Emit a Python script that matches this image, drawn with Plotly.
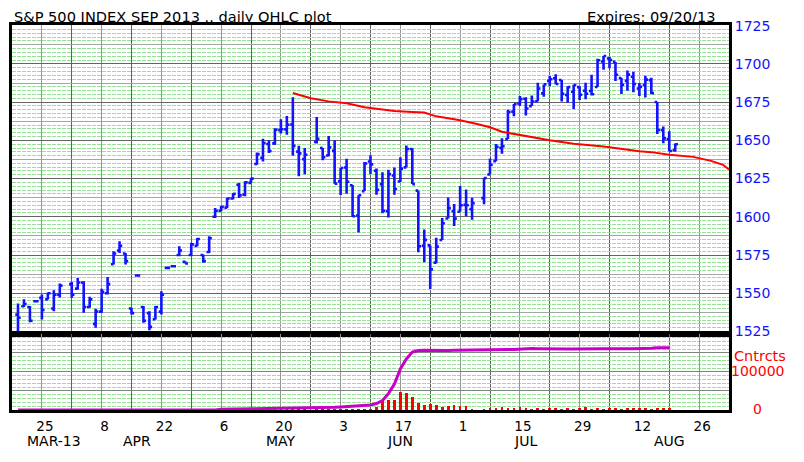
import plotly.graph_objects as go
import pandas as pd

# ---------------- data ----------------
holidays = ["2013-03-29", "2013-05-27", "2013-07-04"]
dates = [d for d in pd.bdate_range("2013-03-19", "2013-08-20")
         if d.strftime("%Y-%m-%d") not in holidays]

opens = [1536.0, 1541.5, 1541.0, 1544.8, 1547.0, 1546.0, 1540.0, 1549.0,
         1556.0, 1553.0, 1557.0, 1541.0, 1530.0, 1538.0, 1550.0, 1569.0, 1578.0, 1576.0, 1540.0, 1561.6, 1541.0, 1537.0, 1533.0, 1538.0, 1566.6, 1567.7, 1575.0, 1570.5, 1575.0, 1581.0,
         1575.0, 1577.0, 1600.0, 1604.0, 1606.0, 1612.0, 1621.0, 1614.5, 1622.2, 1634.5, 1638.6, 1647.6, 1648.0, 1656.7, 1657.2, 1660.4, 1642.6, 1637.7, 1649.0, 1645.0, 1640.1, 1643.1,
         1623.2, 1632.2, 1620.6, 1600.9, 1616.8, 1636.2, 1630.1, 1621.4, 1603.7, 1627.0, 1623.1, 1632.3, 1644.3, 1617.1, 1581.1, 1581.3, 1570.0, 1584.8, 1598.9, 1603.6,
         1603.3, 1607.8, 1605.0, 1612.2, 1627.7, 1636.4, 1645.1, 1650.9, 1668.8, 1674.1, 1677.2, 1672.4, 1675.6, 1680.7, 1688.9, 1690.6, 1689.5, 1679.7, 1681.8, 1684.8, 1682.4, 1682.3,
         1684.9, 1701.6, 1703.5, 1701.3, 1690.8, 1688.9, 1691.6, 1683.9, 1686.2, 1689.4, 1675.1, 1656.7, 1650.8, 1643.5]
highs = [1543.3, 1546.0, 1541.6, 1544.8, 1549.2, 1550.5, 1552.0, 1556.4,
         1557.4, 1560.0, 1557.9, 1547.7, 1539.8, 1552.9, 1560.7, 1577.5, 1584.0, 1576.4, 1540.5, 1561.6, 1541.6, 1538.3, 1541.6, 1551.3, 1566.6, 1567.7, 1580.8, 1571.0, 1583.0, 1586.2,
         1575.3, 1587.3, 1605.8, 1607.0, 1612.3, 1615.6, 1622.1, 1623.2, 1625.5, 1642.0, 1651.0, 1650.0, 1658.0, 1663.8, 1665.9, 1678.2, 1646.5, 1645.0, 1665.2, 1645.0, 1652.9, 1650.0,
         1631.9, 1638.0, 1620.8, 1614.1, 1635.9, 1640.2, 1631.6, 1629.2, 1630.8, 1632.3, 1639.0, 1646.7, 1644.9, 1617.1, 1591.7, 1581.3, 1586.3, 1599.3, 1612.6, 1608.4,
         1620.1, 1617.8, 1612.5, 1625.6, 1638.2, 1647.7, 1651.4, 1670.1, 1673.7, 1679.0, 1678.2, 1679.3, 1687.6, 1686.6, 1692.1, 1693.3, 1689.5, 1685.4, 1686.4, 1685.4, 1687.7, 1692.9,
         1703.4, 1705.2, 1704.7, 1701.3, 1690.8, 1695.7, 1694.9, 1687.5, 1692.3, 1691.0, 1675.1, 1659.1, 1656.0, 1648.0]
lows = [1525.2, 1541.0, 1531.1, 1544.8, 1532.8, 1545.9, 1538.3, 1547.2,
        1547.0, 1552.5, 1537.2, 1540.5, 1527.4, 1537.2, 1549.2, 1568.8, 1576.4, 1568.8, 1536.1, 1561.6, 1530.7, 1525.8, 1532.8, 1536.1, 1566.6, 1567.7, 1574.2, 1569.4, 1574.2, 1580.8,
        1570.0, 1576.4, 1599.3, 1603.6, 1605.8, 1611.3, 1612.3, 1613.4, 1622.2, 1634.0, 1636.2, 1641.8, 1647.0, 1654.5, 1653.7, 1639.9, 1626.5, 1627.9, 1648.0, 1637.0, 1639.6, 1621.7,
        1614.2, 1615.1, 1599.9, 1589.7, 1616.8, 1627.8, 1614.4, 1602.4, 1599.6, 1614.5, 1622.8, 1632.3, 1621.4, 1576.8, 1570.2, 1552.8, 1569.6, 1584.8, 1598.9, 1594.0,
        1603.3, 1600.3, 1598.1, 1608.2, 1627.7, 1636.4, 1641.2, 1650.9, 1665.8, 1672.4, 1666.3, 1672.4, 1675.6, 1678.6, 1685.4, 1686.7, 1675.4, 1674.6, 1670.5, 1676.4, 1676.9, 1679.4,
        1684.9, 1696.2, 1697.1, 1688.8, 1680.4, 1682.5, 1681.5, 1679.0, 1678.1, 1680.3, 1654.1, 1648.1, 1642.8, 1642.5]
closes = [1534.0, 1543.0, 1532.0, 1544.8, 1539.0, 1550.0, 1549.0, 1555.0,
          1549.0, 1557.0, 1541.0, 1546.0, 1538.0, 1551.0, 1556.0, 1576.0, 1581.0, 1571.0, 1537.0, 1561.6, 1532.0, 1528.0, 1541.0, 1549.0, 1566.6, 1567.7, 1578.0, 1569.5, 1582.0, 1585.5,
          1571.0, 1586.0, 1604.0, 1606.5, 1612.0, 1615.0, 1614.0, 1622.5, 1625.0, 1641.0, 1648.3, 1643.0, 1657.0, 1657.3, 1660.2, 1646.4, 1641.5, 1640.6, 1651.1, 1639.0, 1645.4, 1621.7,
          1631.9, 1622.9, 1600.4, 1614.1, 1634.9, 1634.3, 1617.6, 1604.0, 1627.9, 1618.2, 1631.5, 1644.3, 1621.4, 1580.7, 1584.9, 1565.6, 1580.5, 1595.8, 1605.7, 1598.8,
          1607.6, 1607.6, 1608.9, 1625.4, 1634.0, 1645.8, 1646.1, 1668.5, 1673.7, 1677.0, 1670.8, 1675.4, 1683.9, 1686.6, 1690.0, 1686.9, 1680.4, 1684.8, 1686.2, 1679.8, 1680.5, 1680.2,
          1702.4, 1705.2, 1702.6, 1692.9, 1686.4, 1693.0, 1686.9, 1685.0, 1689.7, 1680.9, 1656.8, 1651.3, 1643.0, 1647.5]

volume = [0] * 33 + [
    1500, 2000, 1500, 2000, 1500, 2000, 1500, 2500, 2000, 1500,
    2000, 2500, 2000, 1500, 2000, 2500, 2000, 2000, 2500,
    2000, 2500, 3000, 2500, 3000,
    4000, 8000, 24500, 27000, 27000, 49000, 44000, 35000, 20000, 13000,
    17500, 13000, 8700, 10500, 13000,
    10500, 10500, 3000, 2500,
    5000, 6000, 7500, 6000, 7000, 8000, 5000, 4000, 6500, 3500,
    6000, 5000, 4000, 6000, 4500, 6000, 7500, 4500, 5000, 4500,
    6000, 5000, 4000, 7000, 5500, 6000, 5000, 4000, 6500, 6500, 5000, None]

open_int = [0] * 33 + [
    2000, 2200, 2400, 2500, 2600, 2800, 3000, 3200, 3300, 3500,
    4000, 4200, 4500, 4800, 5000, 5500, 6000, 6500, 7000,
    8000, 8700, 9500, 10500, 11500,
    13000, 17000, 25000, 43000, 68000, 108000, 134000, 152000, 156000, 156500,
    156000, 156000, 156500, 156000, 157000,
    157000, 157500, 157000, 157500,
    157500, 158000, 158000, 158500, 159000, 160000, 161000, 161500, 161000, 160500,
    161000, 161000, 160500, 160000, 160000, 160500, 161000, 161000, 161500, 161000,
    160500, 160000, 160000, 160500, 161000, 161000, 161500, 162000, 163000, 163000, 163500, None]

avg_dates = ["2013-05-22", "2013-05-27", "2013-05-30", "2013-06-04", "2013-06-07", "2013-06-12",
             "2013-06-14", "2013-06-19", "2013-06-21", "2013-06-25", "2013-07-01", "2013-07-04",
             "2013-07-08", "2013-07-10", "2013-07-15", "2013-07-22", "2013-07-26", "2013-08-02",
             "2013-08-12", "2013-08-14", "2013-08-19", "2013-08-23", "2013-08-28", "2013-08-30",
             "2013-09-02"]
avg_vals = [1681.0, 1677.5, 1675.5, 1674.3, 1671.6, 1670.1,
            1669.2, 1668.6, 1668.2, 1665.7, 1663.1, 1660.5,
            1658.6, 1655.6, 1653.5, 1650.1, 1647.8, 1646.0,
            1642.9, 1642.3, 1640.6, 1639.2, 1636.6, 1634.0,
            1631.0]

day_ticks = ["2013-03-25", "2013-04-08", "2013-04-22", "2013-05-06", "2013-05-20", "2013-06-03",
             "2013-06-17", "2013-07-01", "2013-07-15", "2013-07-29", "2013-08-12", "2013-08-26"]
day_labels = ["25", "8", "22", "6", "20", "3", "17", "1", "15", "29", "12", "26"]
month_labels = ["MAR-13", "APR", "MAY", "JUN", "JUL", "AUG"]
month_pos = ["2013-03-27", "2013-04-16", "2013-05-20", "2013-06-17", "2013-07-16", "2013-08-19"]

price_ticks = [1525, 1550, 1575, 1600, 1625, 1650, 1675, 1700, 1725]


# ------------- session axis (5 slots per week, slot 0 = Mon 25 Mar 2013) -------------
def slot(d):
    d = pd.Timestamp(d)
    delta = (d - pd.Timestamp("2013-03-25")).days
    return (delta // 7) * 5 + d.weekday()


x = [slot(d) for d in dates]
x_avg = [slot(d) for d in avg_dates]

BLUE = "rgb(18,18,255)"
RED = "rgb(255,0,0)"
MAGENTA = "rgb(200,0,200)"
GREEN = "rgb(152,224,152)"
FONT = "DejaVu Sans"

fig = go.Figure()
fig.add_trace(go.Ohlc(x=x, open=opens, high=highs, low=lows, close=closes,
                      xaxis="x", yaxis="y", tickwidth=0.45,
                      increasing=dict(line=dict(color=BLUE, width=2.6)),
                      decreasing=dict(line=dict(color=BLUE, width=2.6)),
                      hoverinfo="skip"))
fig.add_trace(go.Scatter(x=x_avg, y=avg_vals, mode="lines", xaxis="x", yaxis="y",
                         line=dict(color=RED, width=2), hoverinfo="skip"))
fig.add_trace(go.Bar(x=x, y=volume, xaxis="x", yaxis="y2", width=0.45,
                     marker=dict(color=RED, line=dict(width=0)), hoverinfo="skip"))
fig.add_trace(go.Scatter(x=x, y=open_int, mode="lines", xaxis="x", yaxis="y2",
                         line=dict(color=MAGENTA, width=3), hoverinfo="skip"))
# carrier for the fine green ruling of the price panel
fig.add_trace(go.Scatter(x=[], y=[], xaxis="x", yaxis="y3", hoverinfo="skip"))

PRICE_RANGE = [1523.5, 1725.45]
LOW_DOM = 0.198
fine_vals = [1525 + 2.5 * k for k in range(-1, 82) if k % 5 != 0]

fig.update_layout(
    width=804, height=462,
    margin=dict(l=9, r=75, t=25, b=52),
    paper_bgcolor="white", plot_bgcolor="white",
    showlegend=False, bargap=0,
    font=dict(family=FONT, color="black"),
    xaxis=dict(range=[-5, 115], anchor="y2", tickmode="array",
               tickvals=[slot(d) for d in day_ticks], ticktext=day_labels,
               ticklabelshift=3, ticklabelstandoff=2, ticks="",
               tickfont=dict(size=13.5, color="black"),
               showgrid=True, gridcolor="rgb(150,150,150)", gridwidth=1,
               minor=dict(tickmode="linear", tick0=5, dtick=10, showgrid=True,
                          gridcolor="rgb(95,95,95)", gridwidth=1, ticks=""),
               showline=True, linecolor="black", linewidth=3, mirror="all",
               zeroline=False, fixedrange=True),
    yaxis=dict(domain=[LOW_DOM, 1], anchor="x", side="right", range=PRICE_RANGE,
               tickmode="array", tickvals=price_ticks, ticktext=[str(v) for v in price_ticks],
               tickfont=dict(size=14, color=BLUE), ticks="",
               showgrid=True, gridcolor="rgb(100,100,100)", gridwidth=1,
               minor=dict(tickmode="linear", tick0=1537.5, dtick=25, showgrid=True,
                          gridcolor="rgb(165,165,165)", gridwidth=1, ticks=""),
               showline=True, linecolor="black", linewidth=3, mirror=True,
               zeroline=False, fixedrange=True),
    yaxis3=dict(overlaying="y", anchor="x", side="right", range=PRICE_RANGE,
                tickmode="array", tickvals=fine_vals, showticklabels=False, ticks="",
                showgrid=True, gridcolor=GREEN, gridwidth=1, griddash="4px,1px",
                showline=False, zeroline=False, fixedrange=True),
    yaxis2=dict(domain=[0, LOW_DOM], anchor="x", side="right", range=[0, 200000],
                tickmode="array", tickvals=[0, 50000, 100000, 150000, 200000],
                showticklabels=False, ticks="",
                showgrid=True, gridcolor="rgb(130,130,130)", gridwidth=1,
                minor=dict(tickmode="linear", tick0=0, dtick=10000, showgrid=True,
                           gridcolor=GREEN, gridwidth=1, griddash="4px,1px", ticks=""),
                showline=True, linecolor="black", linewidth=3, mirror=True,
                zeroline=False, fixedrange=True),
)

fig.update_xaxes(rangeslider_visible=False)

# titles / labels
fig.add_annotation(text="S&P 500 INDEX SEP 2013 .. daily OHLC plot", xref="paper", yref="paper",
                   x=0.0, y=1.021, xanchor="left", yanchor="middle", showarrow=False,
                   font=dict(size=14.6, color="black", family=FONT))
fig.add_annotation(text="Expires: 09/20/13", xref="paper", yref="paper",
                   x=0.985, y=1.021, xanchor="right", yanchor="middle", showarrow=False,
                   font=dict(size=14.6, color="black", family=FONT))
for lab, d in zip(month_labels, month_pos):
    fig.add_annotation(text=lab, xref="x", yref="paper", x=slot(d), y=-0.080,
                       xanchor="center", yanchor="middle", showarrow=False,
                       font=dict(size=14, color="black", family=FONT))
fig.add_annotation(text="Cntrcts", xref="paper", yref="paper", x=1.043, y=0.140,
                   xanchor="center", yanchor="middle", showarrow=False,
                   font=dict(size=14.5, color=RED, family=FONT))
fig.add_annotation(text="100000", xref="paper", yref="paper", x=1.040, y=0.101,
                   xanchor="center", yanchor="middle", showarrow=False,
                   font=dict(size=14, color=RED, family=FONT))
fig.add_annotation(text="0", xref="paper", yref="paper", x=1.040, y=0.003,
                   xanchor="center", yanchor="middle", showarrow=False,
                   font=dict(size=14, color=RED, family=FONT))

fig.write_html("out.html", config={"displayModeBar": False},
               post_script="document.body.style.margin='0px';")
